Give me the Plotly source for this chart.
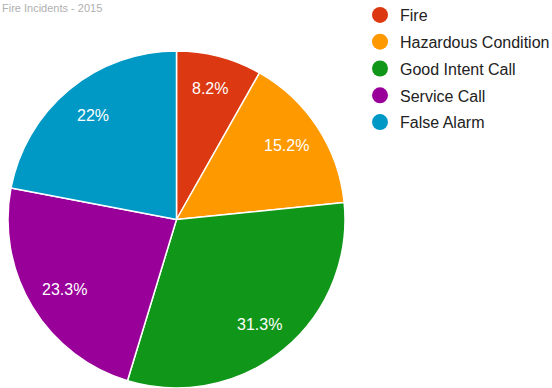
import math
import plotly.graph_objects as go

categories = ["Fire", "Hazardous Condition", "Good Intent Call", "Service Call", "False Alarm"]
shares = [8.2, 15.2, 31.3, 23.3, 22]
colors = ["#dc3912", "#ff9900", "#109618", "#990099", "#0099c6"]
title_text = "Fire Incidents - 2015"

W, H = 552, 388
# pie box in pixels (left, right, top, bottom)
PX0, PX1, PY0, PY1 = 8, 345, 51, 388
FONT = "Arial, Liberation Sans, sans-serif"

fig = go.Figure()

fig.add_trace(go.Pie(
    labels=categories,
    values=shares,
    textinfo="none",
    marker=dict(colors=colors, line=dict(color="white", width=1.5)),
    sort=False,
    direction="clockwise",
    rotation=0,
    showlegend=False,
    hoverinfo="label+percent",
    domain=dict(x=[PX0 / W, PX1 / W], y=[1 - PY1 / H, 1 - PY0 / H]),
))

# Percentage labels along each slice's mid-angle
cx, cy = (PX0 + PX1) / 2, (PY0 + PY1) / 2
R = (PX1 - PX0) / 2
total = sum(shares)
acc = 0.0
for v in shares:
    mid = (acc + v / 2) / total * 2 * math.pi
    acc += v
    s, c = math.sin(mid), math.cos(mid)
    r = 0.78 * R
    px = cx + r * s
    py = cy - r * c - 4 * c
    fig.add_annotation(
        text=f"{v:g}%", xref="paper", yref="paper",
        x=px / W, y=1 - py / H, xanchor="center", yanchor="middle",
        showarrow=False, font=dict(family=FONT, size=16, color="white"),
    )

# Legend entries with round swatches
for i, (name, col) in enumerate(zip(categories, colors)):
    fig.add_trace(go.Scatter(
        x=[None], y=[None], mode="markers", name=name,
        legendgroup=f"g{i}",
        marker=dict(symbol="circle", size=16, color=col),
    ))

fig.add_annotation(
    text=title_text, xref="paper", yref="paper", x=0.0, y=1.0,
    xanchor="left", yanchor="top", showarrow=False,
    font=dict(family=FONT, size=11, color="#b0b0b0"),
)

fig.update_layout(
    width=W, height=H,
    margin=dict(l=0, r=0, t=0, b=0, autoexpand=False),
    paper_bgcolor="white", plot_bgcolor="white",
    xaxis=dict(visible=False), yaxis=dict(visible=False),
    legend=dict(
        x=360 / W, y=1 + 2 / H, xanchor="left", yanchor="top",
        font=dict(family=FONT, size=16, color="#222222"),
        tracegroupgap=3, itemsizing="trace", bgcolor="rgba(0,0,0,0)",
    ),
)

fig.write_html("out.html")
